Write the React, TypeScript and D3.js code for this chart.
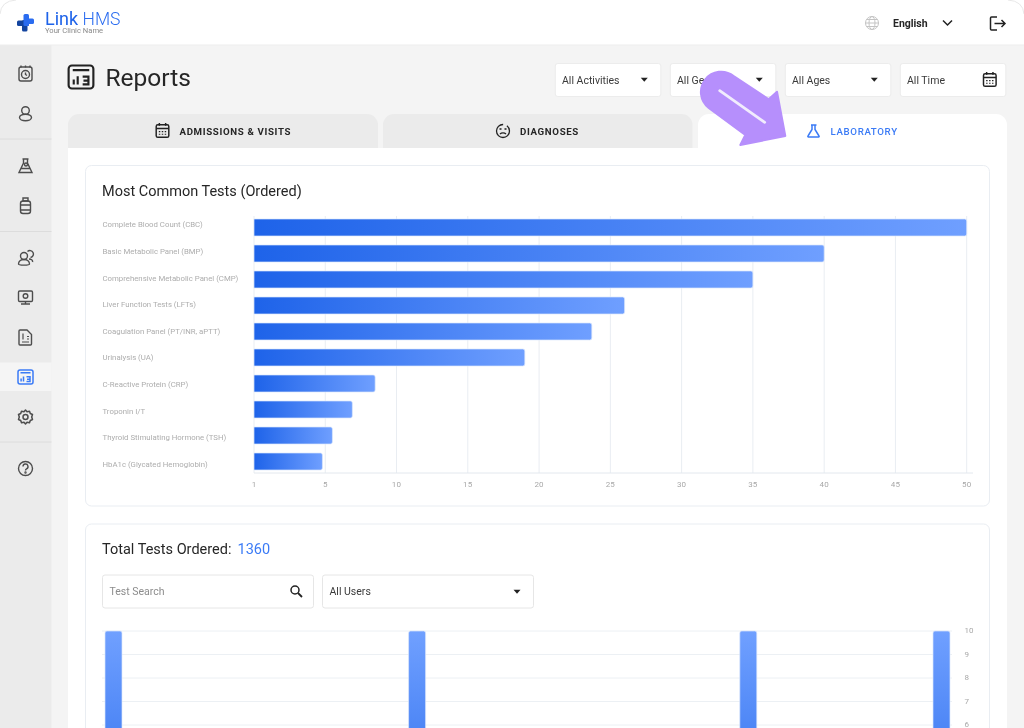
import React from "react";
import * as d3 from "d3";

const testNames = [
  "Complete Blood Count (CBC)",
  "Basic Metabolic Panel (BMP)",
  "Comprehensive Metabolic Panel (CMP)",
  "Liver Function Tests (LFTs)",
  "Coagulation Panel (PT/INR, aPTT)",
  "Urinalysis (UA)",
  "C-Reactive Protein (CRP)",
  "Troponin I/T",
  "Thyroid Stimulating Hormone (TSH)",
  "HbA1c (Glycated Hemoglobin)",
];
const testCounts = [50, 40, 35, 26, 23.7, 19, 8.5, 6.9, 5.5, 4.8];
const xTickValues = [0, 5, 10, 15, 20, 25, 30, 35, 40, 45, 50];
const xTickLabels = ["1", "5", "10", "15", "20", "25", "30", "35", "40", "45", "50"];

const dayDomain = d3.range(1, 32);
const visibleDays = [1, 12, 24, 31];
const visibleDayCounts = [10, 10, 10, 10];
const yTicks = [10, 9, 8, 7, 6];

const filterLabels = ["All Activities", "All Genders", "All Ages", "All Time"];
const tabLabels = ["ADMISSIONS & VISITS", "DIAGNOSES", "LABORATORY"];

const FONT = "Roboto, sans-serif";
const BLUE = "#3b7bf6";
const INK = "#262626";
const ICON = "#4d4d4d";

const x = d3.scaleLinear().domain([0, 50]).range([254, 966.7]);
const yBand = d3.scaleBand<string>().domain(testNames).range([214.5, 474.5]).paddingInner(0.346).paddingOuter(0.173);
const yLabel = d3.scalePoint<string>().domain(testNames).range([224.5, 464]);
const vx = d3.scaleBand<number>().domain(dayDomain).range([99.7, 955.3]).paddingInner(0.384).paddingOuter(0.192);
const vy = d3.scaleLinear().domain([0, 10]).range([866, 631]);

function hBar(x0: number, x1: number, y0: number, h: number, r = 2) {
  const p = d3.path();
  p.moveTo(x0, y0);
  p.lineTo(x1 - r, y0);
  p.quadraticCurveTo(x1, y0, x1, y0 + r);
  p.lineTo(x1, y0 + h - r);
  p.quadraticCurveTo(x1, y0 + h, x1 - r, y0 + h);
  p.lineTo(x0, y0 + h);
  p.closePath();
  return p.toString();
}
function vBar(x0: number, w: number, y0: number, y1: number, r = 2) {
  const p = d3.path();
  p.moveTo(x0, y1);
  p.lineTo(x0, y0 + r);
  p.quadraticCurveTo(x0, y0, x0 + r, y0);
  p.lineTo(x0 + w - r, y0);
  p.quadraticCurveTo(x0 + w, y0, x0 + w, y0 + r);
  p.lineTo(x0 + w, y1);
  p.closePath();
  return p.toString();
}

const Caret = ({ cx, cy }: { cx: number; cy: number }) => (
  <path d={`M${cx - 3.5} ${cy - 1.8}h7l-3.5 4z`} fill="#222" />
);

const Calendar = ({ cx, cy, s = 1, c = "#222" }: { cx: number; cy: number; s?: number; c?: string }) => (
  <g transform={`translate(${cx},${cy}) scale(${s})`} fill="none" stroke={c} strokeWidth={1.4}>
    <rect x={-6} y={-5.5} width={12} height={12} rx={1.6} />
    <path d="M-6 -2H6M-3 -7.2V-4.5M3 -7.2V-4.5" />
    <path d="M-3.5 1h1.4M-0.7 1h1.4M2.1 1h1.4M-3.5 3.6h1.4M-0.7 3.6h1.4M2.1 3.6h1.4" strokeWidth={1.1} />
  </g>
);

const ReportIcon = ({ cx, cy, s = 1, c = "#222", w = 1.4 }: { cx: number; cy: number; s?: number; c?: string; w?: number }) => (
  <g transform={`translate(${cx},${cy}) scale(${s})`} fill="none" stroke={c} strokeWidth={w}>
    <rect x={-7.5} y={-7} width={15} height={14} rx={2} />
    <path d="M-5 -4.2H5M-4.4 4.5V1.5M-2 4.5V-0.5M1 -0.2H4.5V4.5H1M1.5 2.2H4.5" />
  </g>
);

const sideIcons = [
  <g key="a" fill="none" stroke={ICON} strokeWidth={1.4}>
    <rect x={19} y={67} width={13} height={14} rx={2} />
    <circle cx={25.5} cy={74.5} r={4} />
    <path d="M25.5 72.5v2l1.5 1M21 65.5v2M25.5 65.5v2M30 65.5v2" />
  </g>,
  <g key="b" fill="none" stroke={ICON} strokeWidth={1.4}>
    <circle cx={25.5} cy={110.5} r={3.8} />
    <ellipse cx={25.5} cy={117.5} rx={6} ry={3.2} />
  </g>,
  <g key="c" fill="none" stroke={ICON} strokeWidth={1.4}>
    <path d="M22.5 159h6M23.5 159v4l-4.5 9.5h13l-4.5-9.5v-4M20.5 168.5h10" />
    <circle cx={26} cy={164.5} r={1.5} />
  </g>,
  <g key="d" fill="none" stroke={ICON} strokeWidth={1.4}>
    <rect x={20.5} y={201} width={10} height={12.5} rx={2.5} />
    <path d="M23 198h5v3h-5zM20.5 205h10M20.5 210h10" />
  </g>,
  <g key="e" fill="none" stroke={ICON} strokeWidth={1.4}>
    <circle cx={24} cy={256} r={3.5} />
    <path d="M18.5 264c0-6 11-6 11 0 0 1.5-11 1.5-11 0z" />
    <path d="M27.5 251.5a3.5 3.5 0 1 1 3 6M29 259c2 0 4 1 3.5 3" />
  </g>,
  <g key="f" fill="none" stroke={ICON} strokeWidth={1.4}>
    <rect x={18.5} y={291} width={14} height={10.5} rx={1.2} />
    <circle cx={25.5} cy={296} r={2.3} />
    <path d="M25.5 301.5v2.5M21 304h9" />
  </g>,
  <g key="g" fill="none" stroke={ICON} strokeWidth={1.4}>
    <path d="M20 330h7l4.500 4.500v9.500a1 1 0 0 1-1 1h-10.500a1 1 0 0 1-1-1v-13a1 1 0 0 1 1-1z" />
    <path d="M22 342h7M23 333.500v6M27 336.500h2M27 339h2" strokeWidth={1.2} />
  </g>,
  <ReportIcon key="h" cx={25.5} cy={377} s={1} c={BLUE} w={1.5} />,
  <g key="i" fill="none" stroke={ICON} strokeWidth={1.5} strokeLinejoin="round">
    <circle cx={25.5} cy={417} r={2.5} />
    <path d="M25.500 410l1.500 1.700 2.500-.5.800 2.300 2.200 1-.8 2.500.8 2.500-2.200 1-.8 2.300-2.500-.5-1.500 1.700-1.500-1.700-2.500.5-.8-2.300-2.200-1 .8-2.500-.8-2.500 2.200-1 .8-2.300 2.500.5z" />
  </g>,
  <g key="j" fill="none" stroke={ICON} strokeWidth={1.4}>
    <circle cx={25.5} cy={468.500} r={7} />
    <path d="M23 466.500a2.500 2.500 0 1 1 3.500 2.300c-.7.4-1 .8-1 1.700" />
    <circle cx={25.5} cy={472.500} r={0.5} />
  </g>,
];

export default function App() {
  return (
    <svg
      width={1024}
      height={728}
      viewBox="0 0 1024 728"
      style={{ position: "absolute", left: 0, top: 0, fontFamily: FONT, filter: "blur(0.35px)" }}
    >
      <defs>
        <linearGradient id="hGrad" x1="0" x2="1" y1="0" y2="0">
          <stop offset="0" stopColor="#1e63e9" />
          <stop offset="1" stopColor="#6f9fff" />
        </linearGradient>
        <linearGradient id="vGrad" gradientUnits="userSpaceOnUse" x1="0" x2="0" y1="631" y2="866">
          <stop offset="0" stopColor="#70a0ff" />
          <stop offset="1" stopColor="#1e63e9" />
        </linearGradient>
      </defs>

      {/* page */}
      <rect width={1024} height={728} fill="#f4f4f4" />
      <rect y={0} width={51.5} height={728} fill="#ebebeb" />
      <rect width={1024} height={45} fill="#fff" />
      <line x1={0} x2={1024} y1={45} y2={45} stroke="#ededed" />
      <path d="M0 14Q1 1 16 0M1008 0Q1023 1 1024 14" fill="none" stroke="#e8e8e8" />

      {/* sidebar */}
      <rect y={362.500} width={51.5} height={28.500} fill="#f5f5f5" />
      {[139, 231.500, 442].map((d) => (
        <line key={d} x1={0} x2={51.5} y1={d} y2={d} stroke="#dcdcdc" />
      ))}
      {sideIcons}

      {/* logo */}
      <g>
        <rect x={17} y={20.500} width={12} height={5.500} rx={1.500} fill="#14459f" />
        <rect x={22} y={20} width={5.500} height={11.500} rx={1.500} fill="#14459f" />
        <rect x={23.500} y={14} width={5.500} height={12} rx={1.500} fill="#2a6cf0" />
        <rect x={24} y={18.500} width={10} height={5.500} rx={1.500} fill="#2a6cf0" />
      </g>
      <text x={45} y={25} fontSize={18} fill="#1e63e9">Link</text>
      <text x={82.500} y={25} fontSize={17.500} fill="#2a6cf0" fontWeight={300}>HMS</text>
      <text x={45} y={33} fontSize={7.600} fill="#8a8a8a">Your Clinic Name</text>

      {/* header right */}
      <g fill="none" stroke="#c4c4c4" strokeWidth={1}>
        <circle cx={872} cy={23} r={6.500} />
        <ellipse cx={872} cy={23} rx={3} ry={6.500} />
        <path d="M865.500 23h13M866.500 19.500h11M866.500 26.500h11" />
      </g>
      <text x={893} y={26.500} fontSize={10.500} fontWeight={700} fill={INK}>English</text>
      <path d="M943 20.500l4.500 4.500 4.500-4.500" fill="none" stroke="#222" strokeWidth={1.500} />
      <path d="M997 17h-5.500a1 1 0 0 0-1 1v11a1 1 0 0 0 1 1h5.500M994.500 23.500H1005M1001.500 20l3.500 3.500-3.500 3.500" fill="none" stroke="#222" strokeWidth={1.500} />

      {/* title */}
      <ReportIcon cx={81} cy={77} s={1.650} c="#222" w={1.300} />
      <text x={105.500} y={86} fontSize={24.500} fill={INK}>Reports</text>

      {/* filters */}
      {filterLabels.map((d, i) => {
        const left = 555.3 + i * 115;
        return (
          <g key={d}>
            <rect x={left} y={63.500} width={105.500} height={33} rx={2.500} fill="#fff" stroke="#ececec" />
            <text x={left + 6.700} y={83.500} fontSize={10.500} fill="#3a3a3a">{d}</text>
            {i < 3 ? <Caret cx={left + 89} cy={79.500} /> : <Calendar cx={left + 89.500} cy={79.500} s={1.050} />}
          </g>
        );
      })}

      {/* panel and tabs */}
      <rect x={68} y={148} width={939} height={600} fill="#fff" />
      {tabLabels.map((d, i) => {
        const left = [68, 383, 698][i];
        const w = [310, 309.500, 309][i];
        const active = i === 2;
        return (
          <g key={d}>
            <path
              d={`M${left} 148V125a11 11 0 0 1 11-11H${left + w - 11}a11 11 0 0 1 11 11V148z`}
              fill={active ? "#fff" : "#ebebeb"}
            />
            <text
              x={[179.500, 520, 830.500][i]}
              y={134.500}
              fontSize={9.700}
              letterSpacing={0.65}
              fontWeight={active ? 500 : 700}
              fill={active ? BLUE : INK}
            >
              {d}
            </text>
          </g>
        );
      })}
      <Calendar cx={162.500} cy={130.500} s={1.050} />
      <g fill="none" stroke="#222" strokeWidth={1.300}>
        <circle cx={503} cy={131} r={6.500} strokeDasharray="30 4" />
        <path d="M500 134c1.500-1.500 4.500-1.500 6 0M499.500 129h2M504.500 129h2" />
      </g>
      <path d="M810.500 125h5.500M811.500 125v4.500l-4 6.500a.6.6 0 0 0 .5 1h10a.6.6 0 0 0 .5-1l-4-6.500V125" transform="translate(0.500,0)" fill="none" stroke={BLUE} strokeWidth={1.500} />

      {/* card 1 */}
      <rect x={85.500} y={165.500} width={904} height={340.500} rx={6} fill="#fff" stroke="#e9edf2" />
      <text x={102} y={195.500} fontSize={14.500} fill={INK}>Most Common Tests (Ordered)</text>
      {xTickValues.map((d, i) => (
        <g key={d}>
          <line x1={x(d)} x2={x(d)} y1={216} y2={473} stroke="#e9edf2" />
          <text x={x(d)} y={487} fontSize={8} textAnchor="middle" fill="#a8a8a8" letterSpacing={0.2}>
            {xTickLabels[i]}
          </text>
        </g>
      ))}
      <line x1={254} x2={973} y1={473} y2={473} stroke="#e3e8ee" />
      {testNames.map((d, i) => (
        <g key={d}>
          <text x={102.500} y={(yLabel(d) as number) + 2.800} fontSize={7.800} fill="#adadad">
            {d}
          </text>
          <path
            d={hBar(x(0), x(testCounts[i]), yBand(d) as number, yBand.bandwidth())}
            fill="url(#hGrad)"
            stroke="#dbe6fb"
            strokeWidth={0.7}
          />
        </g>
      ))}

      {/* card 2 */}
      <rect x={85.500} y={524} width={904} height={240} rx={6} fill="#fff" stroke="#e9edf2" />
      <text x={102} y={554} fontSize={14.500} fill={INK}>Total Tests Ordered:</text>
      <text x={237.500} y={554} fontSize={14.500} fill={BLUE}>1360</text>
      <rect x={102.500} y={575} width={211} height={33} rx={2.500} fill="#fff" stroke="#e6e6e6" />
      <text x={109.500} y={595} fontSize={10.500} fill="#8c8c8c">Test Search</text>
      <circle cx={295} cy={590} r={4} fill="none" stroke="#222" strokeWidth={1.500} />
      <path d="M298 593l4 4" stroke="#222" strokeWidth={1.800} />
      <rect x={322.500} y={575} width={211} height={33} rx={2.500} fill="#fff" stroke="#e6e6e6" />
      <text x={329.500} y={595} fontSize={10.500} fill="#3a3a3a">All Users</text>
      <Caret cx={517} cy={591.500} />

      {yTicks.map((d) => (
        <g key={d}>
          <line x1={102} x2={952} y1={vy(d)} y2={vy(d)} stroke="#ecf0f4" strokeWidth={1} />
          <text x={964.500} y={vy(d) + 2.400} fontSize={8} fill="#a8a8a8">{d}</text>
        </g>
      ))}
      {visibleDays.map((d, i) => (
        <path
          key={d}
          d={vBar(vx(d) as number, vx.bandwidth(), vy(visibleDayCounts[i]), vy(0))}
          fill="url(#vGrad)"
          stroke="#dbe6fb"
          strokeWidth={0.7}
        />
      ))}

      {/* annotation arrow */}
      <path
        d="M708.700 108A20.300 20.300 0 0 1 733.700 76L768.700 99.300L777 91.700L785.300 136L740.300 145L745.300 135Z"
        fill="#b68ffc"
        stroke="#b68ffc"
        strokeWidth={2}
        strokeLinejoin="round"
      />
      <line x1={719.700} y1={90.700} x2={764.700} y2={122.300} stroke="#f1ecfd" strokeWidth={2.800} strokeLinecap="round" />
    </svg>
  );
}
